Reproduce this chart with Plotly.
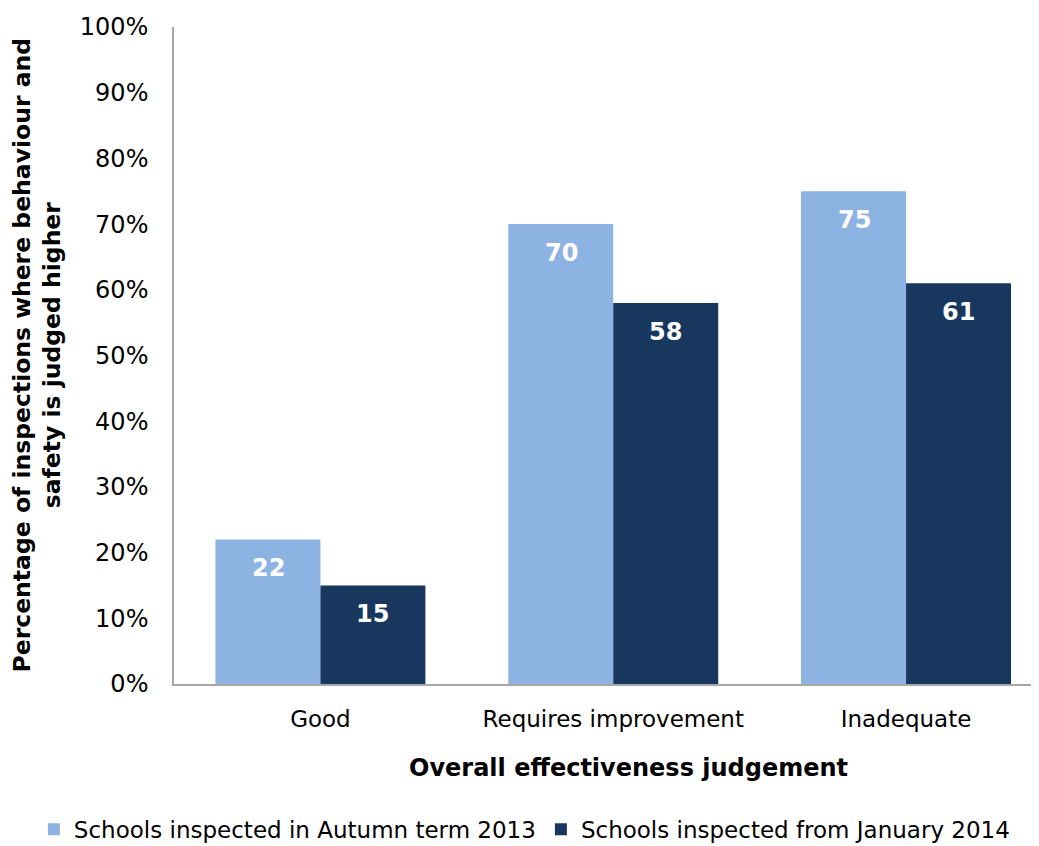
import plotly.graph_objects as go

categories = ["Good", "Requires improvement", "Inadequate"]
autumn_2013 = [22, 70, 75]
from_jan_2014 = [15, 58, 61]
series_names = ["Schools inspected in Autumn term 2013", "Schools inspected from January 2014"]
y_ticks = [0, 10, 20, 30, 40, 50, 60, 70, 80, 90, 100]
y_tick_labels = [f"{v}%" for v in y_ticks]

LIGHT = "#8DB3E2"
DARK = "#17375E"
FONT = "DejaVu Sans, Verdana, sans-serif"

fig = go.Figure()
fig.add_trace(go.Bar(x=categories, y=autumn_2013, name=series_names[0],
                     marker=dict(color=LIGHT, line=dict(width=0))))
fig.add_trace(go.Bar(x=categories, y=from_jan_2014, name=series_names[1],
                     marker=dict(color=DARK, line=dict(width=0))))

for vals, shift in ((autumn_2013, -52), (from_jan_2014, 52)):
    for c, v in zip(categories, vals):
        fig.add_annotation(x=c, y=v, xref="x", yref="y", text=f"<b>{v}</b>",
                           showarrow=False, xshift=shift, yshift=-29,
                           font=dict(family=FONT, size=24, color="white"))

# x axis title
fig.add_annotation(x=0.525, y=-0.128, xref="paper", yref="paper",
                   text="<b>Overall effectiveness judgement</b>", showarrow=False,
                   xanchor="center", yanchor="middle",
                   font=dict(family=FONT, size=24, color="black"))
# y axis title
fig.add_annotation(x=0, y=0.5, xref="paper", yref="paper", xshift=-137,
                   text="<b>Percentage of inspections where behaviour and<br>safety is judged higher</b>",
                   showarrow=False, textangle=-90, xanchor="center", yanchor="middle",
                   font=dict(family=FONT, size=23.5, color="black"))

fig.update_layout(
    width=1031, height=838,
    margin=dict(l=166, r=0, t=19, b=162, autoexpand=False),
    paper_bgcolor="white", plot_bgcolor="white",
    barmode="group", bargap=0.283, bargroupgap=0,
    font=dict(family=FONT, size=22, color="black"),
    showlegend=True,
    legend=dict(orientation="h", x=-0.162, y=-0.221, xanchor="left", yanchor="middle",
                font=dict(family=FONT, size=23, color="black"),
                itemwidth=30, tracegroupgap=0),
    xaxis=dict(range=[-0.5, 2.454], showline=True, linecolor="#A6A6A6", linewidth=1.5,
               ticks="", showgrid=False, automargin=False, ticklabelstandoff=14,
               tickfont=dict(family=FONT, size=23)),
    yaxis=dict(range=[0, 100], tickvals=y_ticks, ticktext=y_tick_labels,
               showline=True, linecolor="#A6A6A6", linewidth=1.5, ticks="",
               showgrid=False, zeroline=False, ticklabelstandoff=19, automargin=False,
               tickfont=dict(family=FONT, size=24)),
)

fig.write_html("out.html")
